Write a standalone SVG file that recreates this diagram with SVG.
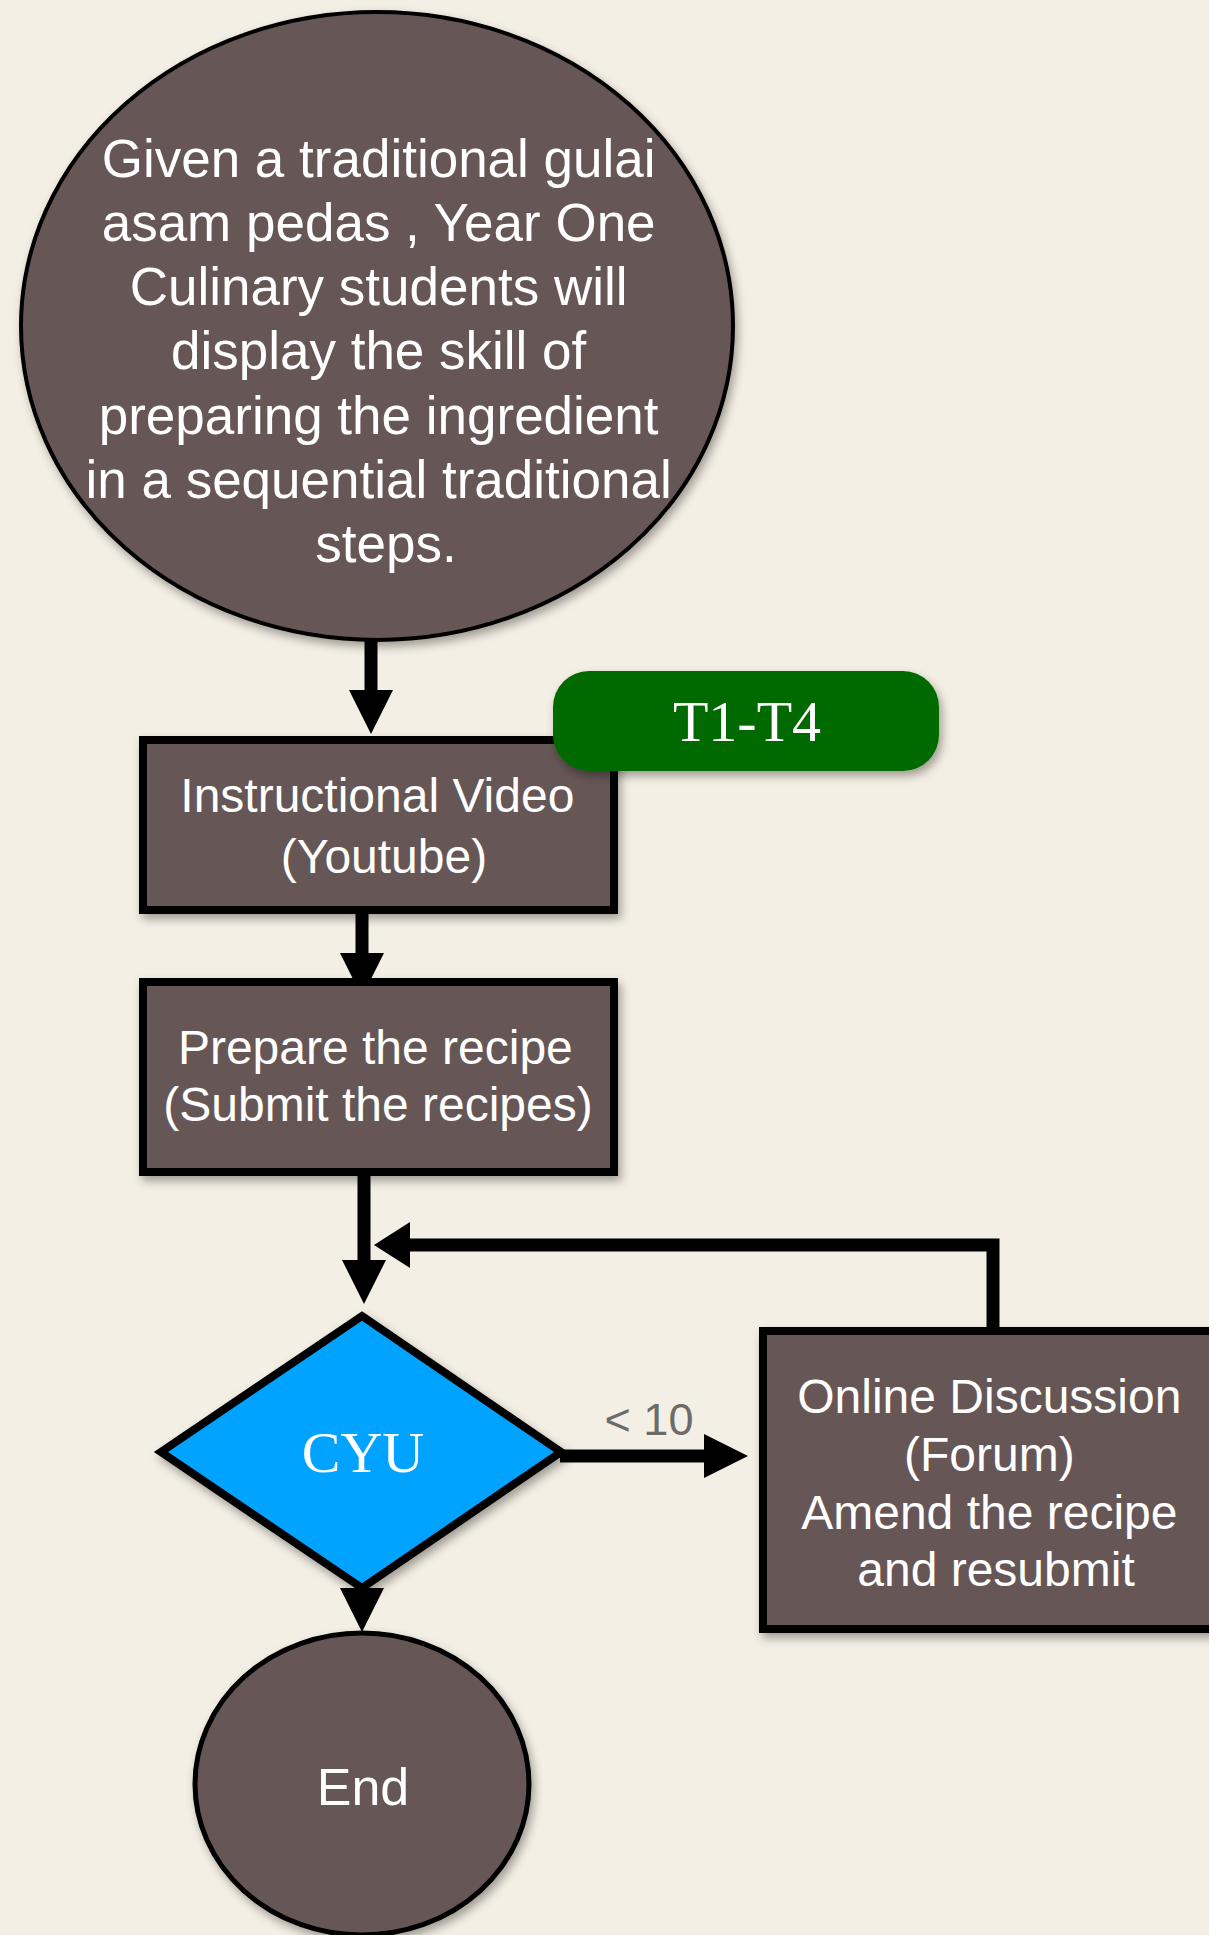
<svg xmlns="http://www.w3.org/2000/svg" width="1209" height="1935" viewBox="0 0 1209 1935">
<style>
.node{fill:#665656;stroke:#000;}
.lbl{font-family:"Liberation Sans",Arial,sans-serif;fill:#fff;text-anchor:middle;}
.serif{font-family:"Liberation Serif","Times New Roman",serif;fill:#fff;text-anchor:middle;}
.conn{fill:none;stroke:#000;stroke-width:13;}
</style>
<defs>
<filter id="sh" x="-10%" y="-10%" width="130%" height="130%">
<feDropShadow dx="3" dy="5" stdDeviation="5" flood-color="#000" flood-opacity="0.35"/>
</filter>
<marker id="ah" viewBox="0 0 44 44" refX="2" refY="22" markerWidth="44" markerHeight="44" markerUnits="userSpaceOnUse" orient="auto">
<path d="M0,0 L44,22 L0,44 Z" fill="#000"/>
</marker>
<marker id="ahs" viewBox="0 0 36 46" refX="2" refY="23" markerWidth="36" markerHeight="46" markerUnits="userSpaceOnUse" orient="auto">
<path d="M0,0 L36,23 L0,46 Z" fill="#000"/>
</marker>
</defs>
<rect width="1209" height="1935" fill="#f4efe4"/>

<g id="connectors">
<line class="conn" x1="371" y1="636" x2="371" y2="692" marker-end="url(#ah)"/>
<line class="conn" x1="362" y1="912" x2="362" y2="955" marker-end="url(#ah)"/>
<line class="conn" x1="364" y1="1172" x2="364" y2="1262" marker-end="url(#ah)"/>
<polyline class="conn" points="993,1329 993,1245 408,1245" marker-end="url(#ahs)"/>
<line class="conn" x1="560" y1="1456" x2="706" y2="1456" marker-end="url(#ah)"/>
<line class="conn" x1="362" y1="1584" x2="362" y2="1590" marker-end="url(#ah)"/>
<text x="649" y="1435" font-family="Liberation Sans, Arial, sans-serif" font-size="45" fill="#6b6b6b" text-anchor="middle">&lt; 10</text>
</g>

<g id="start">
<ellipse class="node" cx="377" cy="326" rx="356" ry="314" stroke-width="4" filter="url(#sh)"/>
<text class="lbl" font-size="53">
<tspan x="386" y="177">Given a traditional gulai</tspan>
<tspan x="386" y="241">asam pedas , Year One</tspan>
<tspan x="386" y="305">Culinary students will</tspan>
<tspan x="386" y="369">display the skill of</tspan>
<tspan x="386" y="434">preparing the ingredient</tspan>
<tspan x="386" y="498">in a sequential traditional</tspan>
<tspan x="386" y="562">steps.</tspan>
</text>
</g>

<g id="video">
<rect class="node" x="143" y="740" width="471" height="170" stroke-width="8" filter="url(#sh)"/>
<text class="lbl" font-size="48">
<tspan x="384" y="812">Instructional Video</tspan>
<tspan x="384" y="873">(Youtube)</tspan>
</text>
</g>

<g id="tag">
<rect x="553" y="671" width="386" height="100" rx="36" ry="36" fill="#056b00" filter="url(#sh)"/>
<text class="serif" x="747" y="741" font-size="58">T1-T4</text>
</g>

<g id="prepare">
<rect class="node" x="143" y="982" width="471" height="190" stroke-width="8" filter="url(#sh)"/>
<text class="lbl" font-size="48">
<tspan x="382" y="1064">Prepare the recipe</tspan>
<tspan x="378" y="1121">(Submit the recipes)</tspan>
</text>
</g>

<g id="cyu">
<polygon points="362,1316 561,1452 362,1588 161,1452" fill="#00a3ff" stroke="#000" stroke-width="8" stroke-linejoin="miter" filter="url(#sh)"/>
<text class="serif" x="363" y="1472" font-size="58">CYU</text>
</g>

<g id="forum">
<rect class="node" x="763" y="1331" width="460" height="298" stroke-width="8" filter="url(#sh)"/>
<text class="lbl" font-size="48">
<tspan x="996" y="1413">Online Discussion</tspan>
<tspan x="996" y="1471">(Forum)</tspan>
<tspan x="996" y="1529">Amend the recipe</tspan>
<tspan x="996" y="1586">and resubmit</tspan>
</text>
</g>

<g id="end">
<ellipse class="node" cx="362" cy="1784" rx="167" ry="151" stroke-width="5" filter="url(#sh)"/>
<text class="lbl" x="363" y="1805" font-size="52">End</text>
</g>
</svg>
